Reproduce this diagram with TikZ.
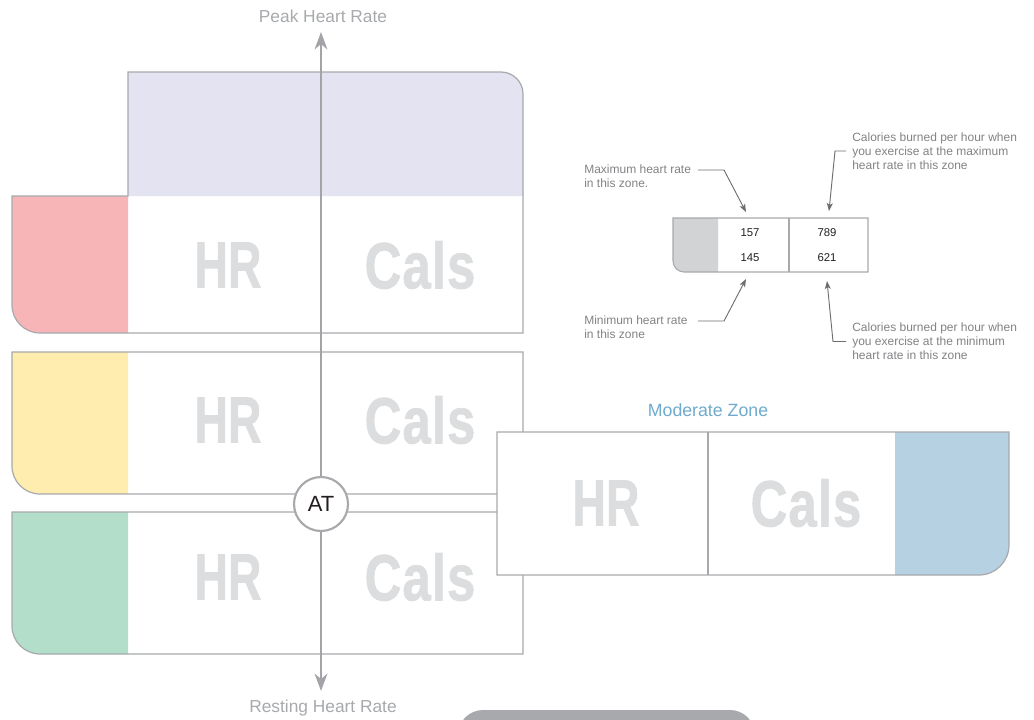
\documentclass[tikz,border=0pt]{standalone}
\usepackage{fontspec}
\usepackage{graphicx}
\setmainfont{Liberation Sans}
\newfontfamily\headfont[FakeBold=1.2]{Liberation Sans Bold}
\usetikzlibrary{arrows.meta}

\definecolor{linegray}{HTML}{A7A9AC}
\definecolor{axisgray}{HTML}{A2A4A7}
\definecolor{labelgray}{HTML}{A7A9AC}
\definecolor{wordgray}{HTML}{DCDDDE}
\definecolor{zonepurple}{HTML}{E3E3F1}
\definecolor{zonered}{HTML}{F7B5B8}
\definecolor{zoneyellow}{HTML}{FEEDAE}
\definecolor{zonegreen}{HTML}{B3DFCA}
\definecolor{zoneblue}{HTML}{B5D1E2}
\definecolor{keygray}{HTML}{D1D3D4}
\definecolor{notegray}{HTML}{808285}
\definecolor{arrowgray}{HTML}{6D6E71}
\definecolor{inkblack}{HTML}{231F20}
\definecolor{zonetitle}{HTML}{6FAACD}
\definecolor{bargray}{HTML}{A7A9AC}

% big condensed column headings
\newcommand{\HRtag}{\scalebox{0.71}[1]{\fontsize{49}{49}\headfont HR}}
\newcommand{\Calstag}{\scalebox{0.78}[1]{\fontsize{49}{49}\headfont C\kern1pt a\kern1pt l\kern1pt s}}

\begin{document}
\begin{tikzpicture}[x=0.75pt,y=-0.75pt,
  frame/.style={draw=linegray, line width=0.9pt},
  axis/.style={draw=axisgray, line width=2pt, -{Stealth[length=13pt,width=9.5pt,inset=4pt]}},
  word/.style={text=wordgray, inner sep=0pt},
  axislabel/.style={text=labelgray, font=\fontsize{13}{15}\selectfont, inner sep=0pt},
  note/.style={text=notegray, font=\fontsize{9}{10.4}\selectfont, align=left, inner sep=0pt, anchor=west},
  notearrow/.style={draw=arrowgray, line width=0.7pt, -{Stealth[length=6pt,width=4.5pt,inset=1.5pt]}},
  num/.style={font=\fontsize{8.5}{10}\selectfont, text=inkblack, inner sep=0pt},
  atnode/.style={circle, draw=linegray, line width=1.6pt, fill=white, minimum size=40.5pt,
    inner sep=0pt, text=inkblack, font=\fontsize{16.5}{18}\selectfont}]
\useasboundingbox (0,0) rectangle (1034,719);

% ---- zone fills ----
\fill[zonepurple] (128,196) -- (128,72) -- (501,72) arc[start angle=-90,end angle=0,radius=22] -- (523,196) -- cycle;
\fill[zonered] (12,196) -- (128,196) -- (128,333) -- (40,333) arc[start angle=90,end angle=180,radius=28] -- cycle;
\fill[zoneyellow] (12,352) -- (128,352) -- (128,494) -- (40,494) arc[start angle=90,end angle=180,radius=28] -- cycle;
\fill[zonegreen] (12,512) -- (128,512) -- (128,654) -- (40,654) arc[start angle=90,end angle=180,radius=28] -- cycle;

% ---- zone outlines ----
\draw[frame] (128,196) -- (128,72) -- (501,72) arc[start angle=-90,end angle=0,radius=22]
  -- (523,333) -- (40,333) arc[start angle=90,end angle=180,radius=28] -- (12,196) -- cycle;
\draw[frame] (12,352) -- (523,352) -- (523,494) -- (40,494) arc[start angle=90,end angle=180,radius=28] -- cycle;
\draw[frame] (12,512) -- (523,512) -- (523,654) -- (40,654) arc[start angle=90,end angle=180,radius=28] -- cycle;

% ---- column headings ----
\node[word] (hr1) at (228,265) {\HRtag};
\node[word] (cal1) at (420,265) {\Calstag};
\node[word] (hr2) at (228,420) {\HRtag};
\node[word] (cal2) at (420,420) {\Calstag};
\node[word] (hr3) at (228,577) {\HRtag};
\node[word] (cal3) at (420,577) {\Calstag};

% ---- heart rate axis ----
\node[atnode] (at) at (321,504) {AT};
\coordinate (peak) at (321,32);
\coordinate (rest) at (321,691);
\draw[axis] (at) -- (peak);
\draw[axis] (at) -- (rest);
\node[axislabel] (peaklbl) at (323,16) {Peak Heart Rate};
\node[axislabel] (restlbl) at (323,708) {Resting Heart Rate};

% ---- moderate zone card ----
\fill[white] (497,432) -- (1009,432) -- (1009,545) arc[start angle=0,end angle=90,radius=30] -- (497,575) -- cycle;
\fill[zoneblue] (895,432) -- (1009,432) -- (1009,545) arc[start angle=0,end angle=90,radius=30] -- (895,575) -- cycle;
\draw[frame] (497,432) -- (1009,432) -- (1009,545) arc[start angle=0,end angle=90,radius=30] -- (497,575) -- cycle;
\draw[draw=linegray, line width=1.8pt] (708,432) -- (708,575);
\node[word] (hrm) at (606,503) {\HRtag};
\node[word] (calm) at (806,503) {\Calstag};
\node[text=zonetitle, font=\fontsize{13.3}{15}\selectfont, inner sep=0pt] (modlbl) at (708,410) {Moderate Zone};

% ---- key ----
\fill[keygray] (673,218) -- (718,218) -- (718,272) -- (684,272) arc[start angle=90,end angle=180,radius=11] -- cycle;
\draw[draw=linegray, line width=0.8pt] (673,218) -- (868,218) -- (868,272) -- (684,272) arc[start angle=90,end angle=180,radius=11] -- cycle;
\draw[draw=linegray, line width=0.8pt] (789,218) -- (789,272);
\node[num] (hrmax) at (750,233) {157};
\node[num] (hrmin) at (750,258) {145};
\node[num] (calmax) at (827,233) {789};
\node[num] (calmin) at (827,258) {621};

\node[note] (notehrmax) at (584,176.5) {Maximum heart rate\\in this zone.};
\node[note] (notehrmin) at (584,327) {Minimum heart rate\\in this zone};
\node[note] (notecalmax) at (852,151) {Calories burned per hour when\\you exercise at the maximum\\heart rate in this zone};
\node[note] (notecalmin) at (852,341) {Calories burned per hour when\\you exercise at the minimum\\heart rate in this zone};

\coordinate (a1) at (698,170);   \coordinate (b1) at (724,170);   \coordinate (t1) at (746,212);
\coordinate (a2) at (698,321);   \coordinate (b2) at (724,321);   \coordinate (t2) at (746,279);
\coordinate (a3) at (846,151);   \coordinate (b3) at (835,151);   \coordinate (t3) at (829,211);
\coordinate (a4) at (846,341.5); \coordinate (b4) at (833,341.5); \coordinate (t4) at (827,281);
\draw[notearrow] (a1) -- (b1) -- (t1);
\draw[notearrow] (a2) -- (b2) -- (t2);
\draw[notearrow] (a3) -- (b3) -- (t3);
\draw[notearrow] (a4) -- (b4) -- (t4);

% ---- tab at the lower edge ----
\begin{scope}
\clip (0,0) rectangle (1034,719);
\fill[bargray] (458,745) -- (458,735) arc[start angle=180,end angle=270,radius=25]
  -- (730,710) arc[start angle=-90,end angle=0,radius=25] -- (755,745) -- cycle;
\end{scope}
\end{tikzpicture}
\end{document}
